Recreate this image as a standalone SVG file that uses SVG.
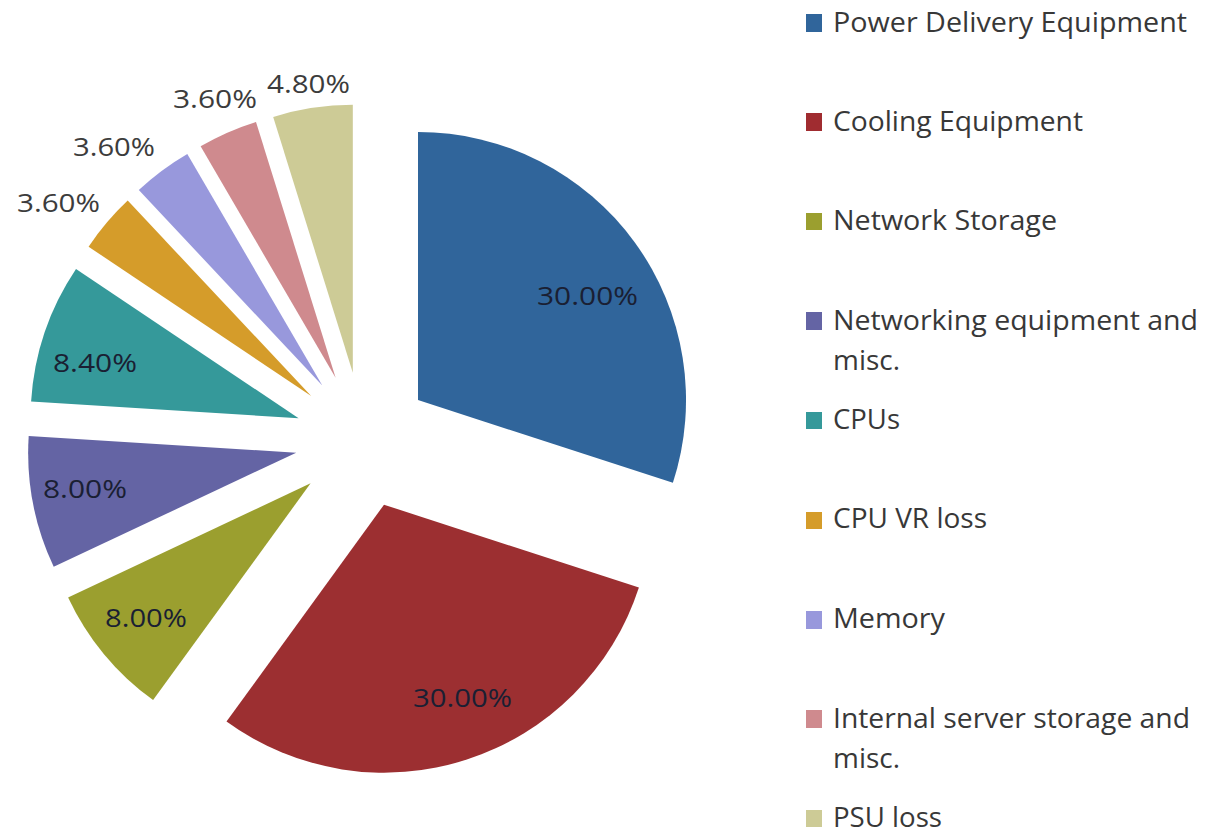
<svg xmlns="http://www.w3.org/2000/svg" width="1207" height="834" viewBox="0 0 1207 834">
<style>
.lbl{font-family:"Open Sans","Noto Sans","Liberation Sans",sans-serif;font-size:26px;fill:#1a1f33}
.out{font-family:"Open Sans","Noto Sans","Liberation Sans",sans-serif;font-size:26px;fill:#3c3c3c}
.leg{font-family:"Open Sans","Noto Sans","Liberation Sans",sans-serif;font-size:27px;fill:#383838}
</style>
<rect width="1207" height="834" fill="#ffffff"/>
<g id="pie">
<g id="slice-power">
<path d="M418 400 L418 132 A268 268 0 0 1 672.9 482.8 Z" fill="#30659b"/>
<text class="lbl" x="537" y="305" textLength="101" lengthAdjust="spacingAndGlyphs">30.00%</text>
</g>
<g id="slice-cooling">
<path d="M384 504.7 L638.9 587.5 A268 268 0 0 1 226.5 721.5 Z" fill="#9c2f31"/>
<text class="lbl" x="413" y="707" textLength="99" lengthAdjust="spacingAndGlyphs">30.00%</text>
</g>
<g id="slice-netstorage">
<path d="M310.6 483.3 L153.1 700.1 A268 268 0 0 1 68.1 597.4 Z" fill="#9b9f2f"/>
<text class="lbl" x="105" y="627" textLength="82" lengthAdjust="spacingAndGlyphs">8.00%</text>
</g>
<g id="slice-networking">
<path d="M296.2 452.7 L53.7 566.8 A268 268 0 0 1 28.7 435.9 Z" fill="#6464a4"/>
<text class="lbl" x="43" y="498" textLength="84" lengthAdjust="spacingAndGlyphs">8.00%</text>
</g>
<g id="slice-cpus">
<path d="M298.6 418.2 L31.1 401.4 A268 268 0 0 1 76 268.9 Z" fill="#35999a"/>
<text class="lbl" x="53" y="372" textLength="84" lengthAdjust="spacingAndGlyphs">8.40%</text>
</g>
<g id="slice-cpuvr">
<path d="M311.2 396 L88.6 246.7 A268 268 0 0 1 127.7 200.6 Z" fill="#d59c2a"/>
<text class="out" x="17" y="212" textLength="83" lengthAdjust="spacingAndGlyphs">3.60%</text>
</g>
<g id="slice-memory">
<path d="M322.3 385.5 L138.8 190.1 A268 268 0 0 1 187.3 154 Z" fill="#9898dc"/>
<text class="out" x="73" y="156" textLength="82" lengthAdjust="spacingAndGlyphs">3.60%</text>
</g>
<g id="slice-internal">
<path d="M335.6 377.8 L200.6 146.3 A268 268 0 0 1 256 121.9 Z" fill="#cf8a8e"/>
<text class="out" x="173" y="108" textLength="84" lengthAdjust="spacingAndGlyphs">3.60%</text>
</g>
<g id="slice-psu">
<path d="M352.8 372.8 L273.2 116.9 A268 268 0 0 1 352.8 104.8 Z" fill="#cdcb96"/>
<text class="out" x="267" y="93" textLength="83" lengthAdjust="spacingAndGlyphs">4.80%</text>
</g>
</g>
<g id="connectors"></g>
<g id="legend">
<g id="leg-power"><rect x="806" y="14" width="16" height="18" fill="#30659b"/><text class="leg" x="833" y="32" textLength="354" lengthAdjust="spacingAndGlyphs">Power Delivery Equipment</text></g>
<g id="leg-cooling"><rect x="806" y="113" width="16" height="18" fill="#a02c30"/><text class="leg" x="833" y="131" textLength="250" lengthAdjust="spacingAndGlyphs">Cooling Equipment</text></g>
<g id="leg-netstorage"><rect x="806" y="213" width="16" height="17" fill="#9b9f2f"/><text class="leg" x="833" y="230" textLength="224" lengthAdjust="spacingAndGlyphs">Network Storage</text></g>
<g id="leg-networking"><rect x="806" y="312" width="16" height="18" fill="#6464a4"/><text class="leg" x="833" y="330" textLength="365" lengthAdjust="spacingAndGlyphs">Networking equipment and</text><text class="leg" x="833" y="370" textLength="67" lengthAdjust="spacingAndGlyphs">misc.</text></g>
<g id="leg-cpus"><rect x="806" y="412" width="16" height="17" fill="#35999a"/><text class="leg" x="833" y="429" textLength="67" lengthAdjust="spacingAndGlyphs">CPUs</text></g>
<g id="leg-cpuvr"><rect x="806" y="512" width="16" height="17" fill="#d59c2a"/><text class="leg" x="833" y="528" textLength="154" lengthAdjust="spacingAndGlyphs">CPU VR loss</text></g>
<g id="leg-memory"><rect x="806" y="611" width="16" height="18" fill="#9898dc"/><text class="leg" x="833" y="628" textLength="112" lengthAdjust="spacingAndGlyphs">Memory</text></g>
<g id="leg-internal"><rect x="806" y="710" width="16" height="18" fill="#cf8a8e"/><text class="leg" x="833" y="728" textLength="357" lengthAdjust="spacingAndGlyphs">Internal server storage and</text><text class="leg" x="833" y="768" textLength="67" lengthAdjust="spacingAndGlyphs">misc.</text></g>
<g id="leg-psu"><rect x="806" y="810" width="16" height="17" fill="#cdcb96"/><text class="leg" x="833" y="827" textLength="109" lengthAdjust="spacingAndGlyphs">PSU loss</text></g>
</g>
</svg>
